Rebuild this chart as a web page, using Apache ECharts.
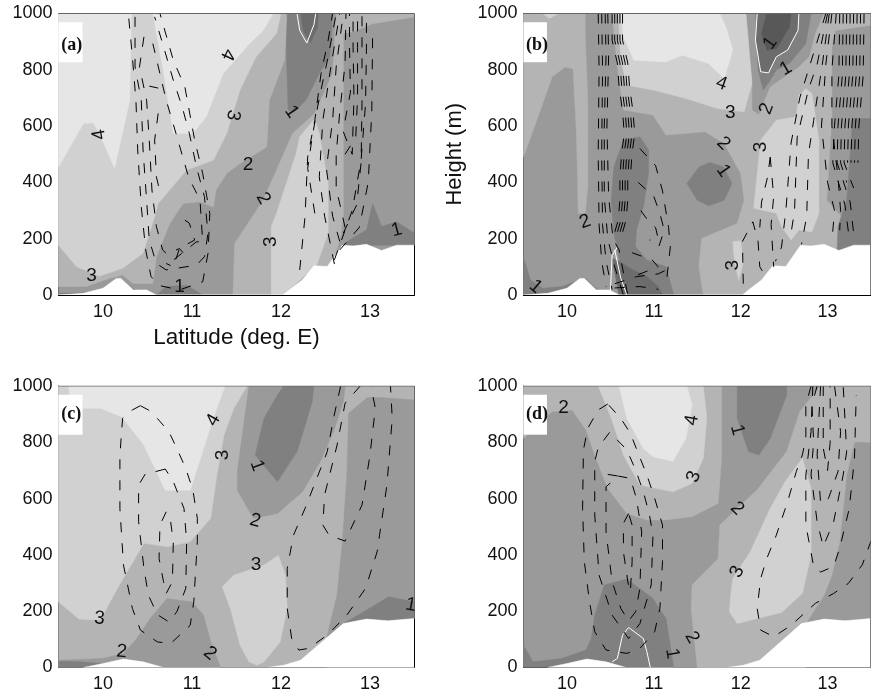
<!DOCTYPE html>
<html><head><meta charset="utf-8"><style>html,body{margin:0;background:#fff}#c{width:871px;height:694px}</style>
<script src="https://cdn.jsdelivr.net/npm/echarts@6/dist/echarts.min.js"></script></head><body><div id="c"></div>
<script>
const latTicks=[10,11,12,13];
const heightTicks=[0,200,400,600,800,1000];
const xName='Latitude (deg. E)', yName='Height (m)';
const panelTags=['(a)','(b)','(c)','(d)'];
// terrain outlines [lat, height]
const terrainRough=[[9.5,0],[9.78,6],[10,24],[10.15,59],[10.2,59],[10.34,18],[10.49,18],[10.6,0],[12.02,0],[12.09,18],[12.24,53],[12.37,104],[12.52,101],[12.69,177],[12.81,174],[12.96,180],[13.13,158],[13.3,177],[13.5,177],[13.5,0]];
const terrainSmooth=[[9.78,0],[10,14],[10.23,30],[10.45,20],[10.68,0],[11.84,0],[12.03,8],[12.22,26],[12.7,156],[12.96,172],[13.2,166],[13.5,174],[13.5,0]];
// filled bands: [band level, outline]
const fillsA=[
[3,[[9.5,0],[13.5,0],[13.5,1000],[9.5,1000]]],
[2,[[9.5,30],[9.81,30],[10.07,59],[10.22,71],[10.34,41],[10.56,41],[10.6,136],[10.75,254],[10.9,325],[11.09,331],[11.24,313],[11.27,373],[11.39,432],[11.54,467],[11.84,526],[11.87,692],[12.04,834],[12.07,1000],[9.5,1000]]],
[1,[[9.5,177],[9.7,101],[9.96,67],[10.22,95],[10.45,148],[10.58,278],[10.62,325],[10.94,444],[11.24,479],[11.39,574],[11.54,728],[11.72,846],[11.95,929],[12,1000],[9.5,1000]]],
[0,[[9.5,1000],[9.5,455],[9.78,609],[9.89,612],[9.96,574],[10.13,450],[10.3,692],[10.31,846],[10.32,1000]]],
[0,[[10.56,1000],[10.67,810],[10.79,574],[11.01,574],[11.16,633],[11.35,787],[11.63,887],[11.8,940],[11.91,1000]]],
[4,[[12.07,1000],[12.06,870],[12.08,657],[12.15,651],[12.28,692],[12.43,787],[12.55,846],[12.58,1000]]],
[5,[[12.22,1000],[12.25,940],[12.33,895],[12.41,950],[12.42,1000]]],
[2,[[11.46,0],[11.48,183],[11.8,337],[12.13,574],[12.38,645],[12.58,787],[12.62,1000],[12.75,1000],[12.7,929],[12.7,278],[12.66,195],[12.58,112],[12.02,0]]],
[2,[[12.7,1000],[12.7,929],[12.81,935],[13.03,964],[13.25,975],[13.5,988],[13.5,1000]]],
[1,[[11.89,0],[11.89,243],[11.95,290],[12.17,503],[12.21,562],[12.38,627],[12.43,574],[12.53,400],[12.53,219],[12.4,106],[12.02,0]]],
[4,[[12.7,177],[12.77,195],[12.96,231],[13.03,325],[13.13,243],[13.3,260],[13.5,219],[13.5,177]]],
[4,[[10.6,0],[10.71,30],[10.94,35],[11.12,0]]],
[4,[[9.5,0],[9.5,6],[9.9,8],[10.2,30],[10.5,10],[10.6,0]]]
];
const fillsB=[
[3,[[9.5,0],[13.5,0],[13.5,1000],[9.5,1000]]],
[2,[[9.5,1000],[10.21,1000],[10.21,929],[10.24,692],[10.24,384],[10.21,290],[10.13,290],[10.11,574],[10.07,804],[9.98,810],[9.83,775],[9.64,609],[9.5,491]]],
[1,[[9.72,1000],[9.8,982],[9.9,1000]]],
[2,[[10.52,1000],[10.58,810],[10.65,657],[10.77,651],[10.99,639],[11.14,568],[11.59,580],[11.81,538],[12,432],[12.04,337],[11.96,254],[11.55,201],[11.52,101],[11.57,0],[13.12,0],[13.12,243],[13.16,278],[12.99,337],[13.05,633],[13.05,881],[13.09,940],[13.5,958],[13.5,1000],[12.96,1000],[12.86,929],[12.79,846],[12.67,810],[12.34,739],[12.21,639],[12.13,657],[12.13,751],[12.06,1000]]],
[1,[[10.59,1000],[10.62,834],[10.69,745],[10.99,728],[11.37,698],[11.74,662],[12.04,651],[12.13,751],[12.06,1000]]],
[0,[[10.62,1000],[10.65,917],[10.77,834],[11.14,828],[11.33,852],[11.63,822],[11.81,769],[11.91,870],[11.83,952],[11.76,1000]]],
[4,[[12.17,1000],[12.2,799],[12.26,728],[12.34,763],[12.41,799],[12.56,822],[12.75,893],[12.81,1000]]],
[5,[[12.19,1000],[12.17,905],[12.23,793],[12.32,789],[12.41,846],[12.54,870],[12.66,940],[12.67,1000]]],
[6,[[12.3,1000],[12.24,929],[12.3,870],[12.41,875],[12.56,952],[12.58,1000]]],
[4,[[11.38,396],[11.52,455],[11.65,471],[11.8,455],[11.9,396],[11.81,337],[11.63,317],[11.5,337]]],
[4,[[10.54,455],[10.65,550],[10.84,562],[10.94,515],[10.94,432],[10.88,313],[10.8,231],[10.79,172],[10.92,124],[11.14,101],[11.23,0],[10.69,0],[10.54,219],[10.51,337]]],
[5,[[10.52,130],[10.6,120],[10.75,90],[10.9,70],[11.05,30],[11.1,0],[10.6,0]]],
[4,[[9.5,0],[9.51,124],[9.58,53],[9.72,24],[9.94,30],[10.21,59],[10.36,18],[10.41,18],[10.45,0]]],
[1,[[11.91,189],[12,193],[12.03,118],[11.98,53],[11.93,112]]],
[1,[[12.15,308],[12.23,550],[12.41,621],[12.64,633],[12.67,710],[12.75,733],[12.82,716],[12.9,550],[12.9,290],[12.82,225],[12.67,231],[12.58,195],[12.47,243],[12.41,290]]],
[4,[[13.5,627],[13.29,627],[13.25,455],[13.22,337],[13.12,243],[13.11,160],[13.5,177]]]
];
const fillsC=[
[2,[[9.5,0],[13.5,0],[13.5,1000],[9.5,1000]]],
[3,[[9.5,0],[9.5,26],[10,32],[10.23,50],[10.38,103],[10.53,174],[10.72,245],[11,233],[11.13,186],[11.21,91],[11.32,0]]],
[3,[[11.64,1000],[11.51,696],[11.51,630],[11.69,530],[11.96,547],[12.24,624],[12.44,731],[12.59,838],[12.7,944],[12.72,1000]]],
[4,[[12.03,1000],[11.96,968],[11.81,885],[11.71,755],[11.96,660],[12.18,767],[12.25,838],[12.35,944],[12.37,1000]]],
[3,[[13.5,950],[13.12,959],[12.97,959],[12.76,903],[12.74,684],[12.69,447],[12.63,257],[12.52,115],[12.52,0],[13.5,0]]],
[4,[[12.7,156],[12.93,198],[13.21,251],[13.5,233],[13.5,166]]],
[1,[[9.5,1000],[9.5,233],[9.73,172],[9.97,168],[10.12,257],[10.27,340],[10.46,441],[10.72,429],[10.98,447],[11.21,530],[11.28,684],[11.36,826],[11.47,921],[11.62,1000]]],
[0,[[9.61,1000],[9.65,921],[9.97,921],[10.21,891],[10.46,790],[10.7,630],[10.98,630],[11.13,778],[11.24,885],[11.37,1000]]],
[1,[[11.34,287],[11.47,328],[11.81,364],[11.97,399],[12.05,328],[12.07,210],[11.99,91],[11.81,20],[11.73,8],[11.64,20],[11.54,79],[11.43,210]]],
[4,[[9.5,0],[9.5,22],[9.75,20],[10,14],[10,0]]]
];
const fillsD=[
[3,[[9.5,0],[13.5,0],[13.5,1000],[9.5,1000]]],
[2,[[9.5,814],[9.83,909],[10.06,915],[10.22,844],[10.32,755],[10.47,636],[10.69,547],[10.92,524],[11.14,524],[11.44,536],[11.74,583],[11.78,743],[11.78,1000],[9.5,1000]]],
[1,[[10.36,1000],[10.51,885],[10.65,755],[10.84,648],[11.22,624],[11.44,654],[11.57,743],[11.61,885],[11.57,1000]]],
[0,[[10.6,1000],[10.69,885],[10.88,778],[10.99,749],[11.22,733],[11.37,814],[11.44,933],[11.38,1000]]],
[4,[[11.96,1000],[11.96,885],[12.09,767],[12.21,755],[12.34,814],[12.53,968],[12.53,1000]]],
[4,[[9.5,0],[9.5,79],[9.61,20],[9.94,32],[10.22,62],[10.28,103],[10.32,186],[10.43,293],[10.69,314],[10.99,245],[11.14,174],[11.23,0]]],
[2,[[11.5,0],[11.43,210],[11.44,293],[11.74,387],[11.76,506],[11.96,565],[12.19,631],[12.53,767],[12.68,909],[12.92,1000],[13.5,1000],[13.5,800],[13.31,802],[13.22,684],[13.14,447],[13.05,328],[12.96,257],[12.75,156],[12.75,0]]],
[1,[[11.89,269],[11.87,198],[11.96,156],[12.47,195],[12.71,263],[12.81,399],[12.81,636],[12.71,743],[12.51,660],[12.34,565],[12.11,411],[11.91,316]]]
];
// white solid contour lines
const whiteA=[[[12.18,1000],[12.21,940],[12.29,895],[12.37,960],[12.39,1000]]];
const whiteB=[[[12.19,1000],[12.17,905],[12.23,793],[12.32,789],[12.41,846],[12.54,870],[12.66,940],[12.67,1000]],[[10.58,170],[10.52,140],[10.5,10]],[[10.55,160],[10.62,60],[10.69,0]]];
const whiteC=[];
const whiteD=[[[10.52,20],[10.58,32],[10.64,115],[10.71,142],[10.88,103],[10.92,56],[10.96,0]]];
// dashed contour lines
const dashA=[
[[10.29,982],[10.33,846],[10.37,692],[10.39,515],[10.43,313],[10.48,160],[10.54,65],[10.64,33],[10.86,18],[11.12,47],[11.18,148],[11.2,290],[11.12,432],[11.03,550],[10.92,739],[10.79,834],[10.64,1000]],
[[10.36,988],[10.36,810],[10.43,692],[10.45,515],[10.49,337],[10.52,195],[10.6,112],[10.71,89],[11.05,106],[11.14,136],[11.18,219],[11.14,349],[11.05,455],[10.97,574],[10.89,668],[10.79,763],[10.67,893],[10.58,988]],
[[10.46,917],[10.41,810],[10.49,692],[10.52,550],[10.55,373],[10.6,243],[10.67,160],[10.79,124],[11.05,189],[11.12,189],[11.09,337],[10.96,420],[10.82,574],[10.71,692],[10.56,893]],
[[10.52,742],[10.62,735]],
[[10.62,645],[10.58,550],[10.6,420],[10.64,365]],
[[10.92,266],[10.97,255],[11.03,195],[10.86,166],[10.79,100],[10.71,112]],
[[10.82,160],[10.86,165],[10.9,150]],
[[12.21,89],[12.27,278],[12.3,491],[12.38,621],[12.45,787],[12.53,905],[12.58,1000]],
[[12.38,290],[12.3,450],[12.35,560],[12.43,700],[12.53,846],[12.62,1000]],
[[12.6,110],[12.49,280],[12.43,420],[12.47,620],[12.55,790],[12.66,1000]],
[[12.66,190],[12.58,280],[12.51,450],[12.58,620],[12.62,810],[12.7,1000]],
[[12.72,240],[12.62,380],[12.62,500],[12.66,650],[12.72,820],[12.73,1000]],
[[12.66,160],[12.88,240],[12.98,400],[13.02,650],[13.03,940]],
[[12.6,125],[12.8,300],[12.9,480],[12.95,680],[12.96,870],[12.96,1000]],
[[12.7,220],[12.85,320],[12.9,470],[12.91,680],[12.91,880],[12.91,1000]],
[[12.72,500],[12.84,560],[12.86,700],[12.86,880],[12.86,1000]],
[[12.7,580],[12.8,500],[12.82,700],[12.81,880],[12.81,1000]],
[[12.72,620],[12.78,720],[12.77,880],[12.77,1000]]
];
const dashB=[
[[10.36,1000],[10.37,800],[10.36,500],[10.37,250],[10.4,120],[10.45,30]],
[[10.4,1000],[10.41,800],[10.4,500],[10.41,250],[10.45,120],[10.52,20]],
[[10.44,1000],[10.45,850],[10.43,600],[10.43,350],[10.47,200],[10.55,100],[10.65,0]],
[[10.47,1000],[10.48,850],[10.46,600],[10.48,350],[10.53,200],[10.6,160],[10.7,0]],
[[10.52,1000],[10.52,905],[10.58,824],[10.6,742],[10.64,652],[10.66,574],[10.63,503],[10.61,420],[10.61,337],[10.59,266],[10.52,190]],
[[10.55,1000],[10.55,905],[10.61,824],[10.63,742],[10.67,652],[10.69,574],[10.66,503],[10.64,420],[10.64,337],[10.62,266],[10.55,190]],
[[10.58,1000],[10.58,905],[10.64,824],[10.66,742],[10.7,652],[10.72,574],[10.69,503],[10.67,420],[10.67,337],[10.65,266],[10.58,190]],
[[10.61,1000],[10.61,905],[10.67,824],[10.69,742],[10.73,652],[10.75,574],[10.72,503],[10.7,420],[10.7,337],[10.68,266],[10.61,190]],
[[10.64,1000],[10.64,905],[10.7,824],[10.72,742],[10.76,652],[10.78,574],[10.75,503],[10.73,420]],
[[10.84,520],[11.02,460],[11.1,370],[11.17,240],[11.19,170],[11.15,60]],
[[10.82,400],[11,350],[11.07,290],[11.12,230],[11.05,165]],
[[10.85,300],[10.92,270],[11.02,240],[11.05,200],[10.95,195]],
[[10.55,40],[10.8,65],[11.05,75],[11.15,90]],
[[10.55,25],[10.84,30],[11.05,20]],
[[10.75,150],[10.98,125],[11.05,100],[10.8,70]],
[[12.03,40],[12.02,190],[12.14,260],[12.2,190],[12.22,100],[12.3,60]],
[[12.34,490],[12.31,420],[12.24,330],[12.22,240]],
[[12.34,490],[12.38,350],[12.35,250],[12.38,100]],
[[12.98,1000],[12.8,820],[12.68,700],[12.58,540],[12.52,300],[12.47,170],[12.4,120]],
[[13,1000],[12.88,820],[12.78,730],[12.65,560],[12.62,300],[12.58,220]],
[[13.02,1000],[12.94,820],[12.84,620],[12.78,500],[12.76,280],[12.7,180]],
[[13.05,1000],[12.98,820],[12.93,600],[13,400],[13.08,300],[13.05,190]],
[[13.1,1000],[13.05,800],[13.05,600],[13.12,420],[13.15,300],[13.14,230]],
[[13.14,1000],[13.13,780],[13.08,600],[13.06,470],[13.2,320],[13.25,200]],
[[13.18,1000],[13.17,780],[13.12,600],[13.11,470],[13.26,330],[13.3,220]],
[[13.22,1000],[13.21,780],[13.16,600],[13.15,470],[13.22,400]],
[[13.26,1000],[13.25,780],[13.2,600],[13.19,470],[13.3,380]],
[[13.3,1000],[13.29,780],[13.24,600],[13.23,470]],
[[13.34,1000],[13.33,780],[13.28,600],[13.27,470]],
[[13.38,1000],[13.37,780],[13.32,600],[13.31,470]],
[[13.42,1000],[13.41,780],[13.36,600],[13.35,470]]
];
const dashC=[
[[10.42,930],[10.33,915],[10.22,885],[10.19,755],[10.19,565],[10.23,364],[10.33,210],[10.42,133],[10.61,91],[10.76,85],[10.98,150],[11.02,233],[11.06,447],[11.06,530],[11.01,630],[10.93,707],[10.83,778],[10.74,838],[10.61,885],[10.51,915],[10.42,930]],
[[10.7,705],[10.59,696],[10.48,690],[10.4,648],[10.4,518],[10.46,352],[10.51,257],[10.61,188],[10.74,162],[10.83,198],[10.93,281],[10.94,447],[10.91,565],[10.79,660],[10.7,705]],
[[10.71,553],[10.64,506],[10.63,387],[10.68,305],[10.71,263],[10.78,305],[10.79,447],[10.76,518],[10.71,553]],
[[12.67,1000],[12.59,885],[12.52,767],[12.27,565],[12.14,470],[12.07,352],[12.07,210],[12.12,103],[12.2,62],[12.31,68],[12.52,115],[12.74,186],[12.95,281],[13.08,411],[13.19,648],[13.25,885],[13.23,1000]],
[[12.89,1000],[12.72,939],[12.63,790],[12.49,613],[12.47,506],[12.54,470],[12.72,449],[12.91,577],[13,755],[13.06,921],[13.01,1000]]
];
const dashD=[
[[10.47,936],[10.36,915],[10.24,850],[10.19,773],[10.18,565],[10.2,376],[10.26,233],[10.32,127],[10.45,62],[10.69,50],[10.84,68],[11.01,127],[11.07,210],[11.1,376],[11.1,506],[11.01,601],[10.92,684],[10.82,761],[10.73,832],[10.62,885],[10.47,936]],
[[10.49,835],[10.36,781],[10.32,731],[10.32,542],[10.37,328],[10.52,186],[10.71,103],[10.84,156],[10.97,293],[10.99,470],[10.95,542],[10.88,624],[10.79,702],[10.69,773],[10.58,808],[10.49,835]],
[[10.47,686],[10.59,680],[10.45,642],[10.45,482],[10.52,305],[10.62,210],[10.71,165],[10.79,198],[10.84,281],[10.86,482],[10.8,601],[10.73,672],[10.59,680]],
[[10.71,547],[10.65,512],[10.65,411],[10.71,287],[10.73,269],[10.75,376],[10.75,506],[10.71,547]],
[[12.81,1000],[12.75,933],[12.75,815],[12.71,755],[12.64,696],[12.54,589],[12.41,470],[12.3,387],[12.23,316],[12.19,210],[12.23,133],[12.38,109],[12.58,150],[12.86,228],[13.07,263],[13.24,299],[13.4,365],[13.5,450]],
[[12.83,1000],[12.81,838],[12.75,684],[12.75,506],[12.84,359],[12.92,339],[13.07,359],[13.14,424],[13.25,565],[13.31,743],[13.33,968]],
[[12.88,1000],[12.82,933],[12.84,802],[12.81,684],[12.88,518],[12.95,430],[13.07,518],[13.18,684],[13.22,767],[13.18,1000]],
[[12.92,1000],[12.9,885],[12.88,755],[12.92,583],[13.01,600],[13.12,696],[13.15,838],[13.08,1000]],
[[12.95,1000],[12.95,900],[12.95,780],[13,700],[13.03,800],[13.03,1000]]
];
// contour labels [text, lat, height]
const labelsA=[['4',11.4,854],['4',9.96,570],['3',11.46,639],['2',11.63,461],['2',11.8,343],['1',12.12,651],['3',11.88,189],['3',9.87,67],['1',10.86,30],['1',13.3,231]];
const labelsB=[['2',10.21,260],['1',9.64,30],['3',11.88,647],['2',11.8,538],['1',11.8,441],['4',11.78,751],['2',12.3,662],['3',12.23,526],['3',11.91,106],['1',12.34,895],['1',12.52,804]];
const labelsC=[['4',11.24,879],['3',11.35,755],['1',11.73,717],['2',11.71,521],['3',11.72,364],['3',9.96,174],['2',10.21,56],['2',11.2,50],['1',13.46,222]];
const labelsD=[['2',9.96,921],['4',11.44,879],['1',11.96,844],['3',11.46,678],['2',11.96,565],['3',11.96,340],['2',11.44,107],['1',11.21,50]];
const anglesA=[-115,100,-100,0,-60,-55,90,0,0,15];
const anglesB=[20,-40,0,-45,-55,-20,70,90,90,55,30];
const anglesC=[60,90,-70,-15,0,-5,-5,-40,-10];
const anglesD=[0,80,-75,70,-45,65,-60,-80];

const levelColors=['#e6e6e6','#d1d1d1','#b4b4b4','#9a9a9a','#808080','#6c6c6c','#585858'];
const layout=[[58.5,13.5],[523.5,13.5],[58.5,386],[523.5,386]];
const panels=[
 {fills:fillsA,terrain:terrainRough,white:whiteA,dash:dashA,labels:labelsA,angles:anglesA,tagLat:9.53,tagH:888},
 {fills:fillsB,terrain:terrainRough,white:whiteB,dash:dashB,labels:labelsB,angles:anglesB,tagLat:9.53,tagH:888},
 {fills:fillsC,terrain:terrainSmooth,white:whiteC,dash:dashC,labels:labelsC,angles:anglesC,tagLat:9.53,tagH:900},
 {fills:fillsD,terrain:terrainSmooth,white:whiteD,dash:dashD,labels:labelsD,angles:anglesD,tagLat:9.53,tagH:900}
];
const grid=[],xAxis=[],yAxis=[],series=[];
panels.forEach((p,i)=>{
 grid.push({left:layout[i][0],top:layout[i][1],width:356,height:281.5,containLabel:false});
 xAxis.push({gridIndex:i,type:'value',min:9.5,max:13.5,splitLine:{show:false},
  axisLine:{onZero:false,lineStyle:{color:'#000',width:1}},
  axisTick:{inside:true,length:4,lineStyle:{color:'#000'},customValues:latTicks},
  axisLabel:{color:'#111',fontFamily:'Liberation Sans',fontSize:18,margin:8,customValues:latTicks,formatter:v=>String(v)},
  name:i===0?xName:'',nameLocation:'middle',nameGap:31,nameTextStyle:{color:'#111',fontFamily:'Liberation Sans',fontSize:22.5}});
 yAxis.push({gridIndex:i,type:'value',min:0,max:1000,interval:200,splitLine:{show:false},
  axisLine:{onZero:false,lineStyle:{color:'#000',width:1}},
  axisTick:{inside:true,length:4,lineStyle:{color:'#000'},customValues:heightTicks},
  axisLabel:{color:'#111',fontFamily:'Liberation Sans',fontSize:18,margin:6,customValues:heightTicks,formatter:v=>String(v)},
  name:i===1?yName:'',nameLocation:'middle',nameGap:58,nameTextStyle:{color:'#111',fontFamily:'Liberation Sans',fontSize:22}});
 const layers=p.fills.map(f=>({c:levelColors[f[0]],pts:f[1]}));
 layers.push({c:'#fff',pts:p.terrain});
 series.push({type:'custom',xAxisIndex:i,yAxisIndex:i,clip:true,silent:true,animation:false,z:2,
  data:layers.map((l,k)=>[k]),
  renderItem:(params,api)=>{const l=layers[params.dataIndex];
   return {type:'polygon',shape:{points:l.pts.map(q=>api.coord(q))},style:{fill:l.c,stroke:l.c,lineWidth:0.5}};}});
 p.white.forEach(w=>series.push({type:'line',xAxisIndex:i,yAxisIndex:i,data:w,showSymbol:false,silent:true,animation:false,z:3,clip:true,lineStyle:{color:'#fff',width:1}}));
 p.dash.forEach(d=>series.push({type:'line',xAxisIndex:i,yAxisIndex:i,data:d,showSymbol:false,silent:true,animation:false,z:4,clip:true,lineStyle:{color:'#000',width:1,type:[10,11]}}));
 series.push({type:'line',xAxisIndex:i,yAxisIndex:i,data:[[9.5,1000],[13.5,1000],[13.5,p.terrain===terrainRough?177:174]],showSymbol:false,silent:true,animation:false,z:4,lineStyle:{color:'#666',width:1}});
 series.push({type:'line',xAxisIndex:i,yAxisIndex:i,data:[[13.5,p.terrain===terrainRough?177:174],[13.5,0]],showSymbol:false,silent:true,animation:false,z:4,lineStyle:{color:'#000',width:1}});
 series.push({type:'custom',xAxisIndex:i,yAxisIndex:i,silent:true,animation:false,z:5,
  data:p.labels.map((l,k)=>[l[1],l[2],k]),
  renderItem:(params,api)=>{const k=params.dataIndex,c=api.coord([p.labels[k][1],p.labels[k][2]]);
   return {type:'text',x:c[0],y:c[1],rotation:p.angles[k]*Math.PI/180,
    style:{text:p.labels[k][0],x:0,y:0,fill:'#111',font:'19px "Liberation Sans"',align:'center',verticalAlign:'middle'}};}});
 series.push({type:'custom',xAxisIndex:i,yAxisIndex:i,silent:true,animation:false,z:6,data:[[p.tagLat,p.tagH]],
  renderItem:(params,api)=>{const a=api.coord([9.5,969]),b=api.coord([9.77,827]),c=api.coord([p.tagLat,p.tagH]);
   return {type:'group',children:[
    {type:'rect',shape:{x:a[0],y:a[1],width:b[0]-a[0],height:b[1]-a[1]},style:{fill:'#fff'}},
    {type:'text',x:c[0],y:c[1],style:{text:panelTags[i],x:0,y:0,fill:'#111',font:'bold 18px "Liberation Serif"',align:'left',verticalAlign:'middle'}}]};}});
});
const chart=echarts.init(document.getElementById('c'),null,{renderer:'canvas'});
chart.setOption({animation:false,backgroundColor:'#fff',grid,xAxis,yAxis,series});
</script></body></html>
